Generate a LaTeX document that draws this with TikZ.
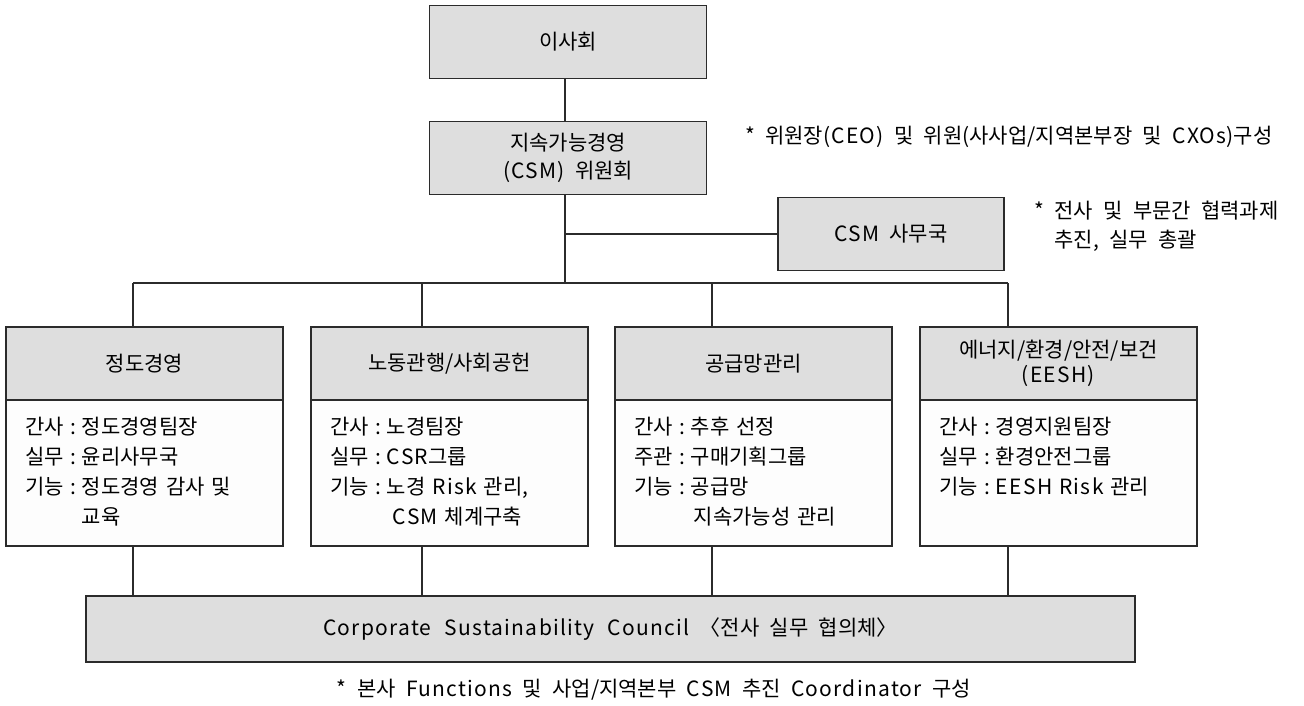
\documentclass[tikz,border=0pt]{standalone}
\usepackage{fontspec}
\setmainfont{Noto Sans CJK KR}[WordSpace=2.2]
\newfontfamily\engfont{Noto Sans CJK KR}[WordSpace=2.2, LetterSpace=6]
\newcommand{\eng}[1]{{\engfont #1}}
\usepackage{array}
\definecolor{headgray}{HTML}{DEDEDE}
\definecolor{bodywhite}{HTML}{FDFDFD}
\definecolor{linegray}{HTML}{2B2B2B}

\begin{document}
\begin{tikzpicture}[
        x=1pt, y=-1pt,
        topbox/.style={rectangle, draw=linegray, line width=1.2pt, fill=headgray, minimum width=277pt, minimum height=73pt, align=center, inner sep=0pt, font=\fontsize{21}{28}\selectfont},
        officebox/.style={topbox, minimum width=226pt},
        headbox/.style={topbox, font=\fontsize{21}{25}\selectfont},
        bodybox/.style={rectangle, draw=linegray, line width=1.2pt, fill=bodywhite, minimum width=277pt, minimum height=146pt, text width=238pt, align=left, inner sep=0pt, font=\fontsize{21}{30}\selectfont},
        councilbox/.style={topbox, minimum width=1049pt, minimum height=66pt},
        note/.style={align=left, inner sep=0pt, font=\fontsize{21}{29}\selectfont},
        link/.style={draw=linegray, line width=1.2pt}
    ]
        \useasboundingbox (0,0) rectangle (1304,706);

        % Board and committee
        \node[topbox] (board) at (568,42) {이사회};
        \node[topbox] (csm_comm) at (568,158) {지속가능경영\\\eng{(CSM)} 위원회};
        \node[note, anchor=west] (comm_note) at (745,137) {* 위원장\eng{(CEO)} 및 위원(사사업/지역본부장 및 \eng{CXOs})구성};

        % Office
        \node[officebox] (csm_office) at (891,234) {\eng{CSM} 사무국};
        \node[note, anchor=west] (office_note) at (1034,226) {* 전사 및 부문간 협력과제\\\phantom{* }추진, 실무 총괄};

        % Trunk and bus
        \coordinate (trunk) at (565,283);
        \coordinate (drop1) at (133,283);
        \coordinate (drop2) at (422,283);
        \coordinate (drop3) at (712,283);
        \coordinate (drop4) at (1008,283);
        \draw[link] (board.south -| trunk) -- (csm_comm.north -| trunk);
        \draw[link] (csm_comm.south -| trunk) -- (trunk);
        \draw[link] (trunk |- csm_office.west) -- (csm_office.west);
        \draw[link] (drop1) -- (drop4);

        % Division 1: ethics
        \node[headbox] (ethics_head) at (144.5,363.5) {정도경영};
        \node[bodybox] (ethics_body) at (144.5,473) {\begin{tabular}{@{}l@{\hspace{6pt}}c@{\hspace{6pt}}l@{}}
            간사 & : & 정도경영팀장\\
            실무 & : & 윤리사무국\\
            기능 & : & 정도경영 감사 및\\
                 &   & 교육
        \end{tabular}};

        % Division 2: labour / community
        \node[headbox] (labour_head) at (449.5,363.5) {노동관행/사회공헌};
        \node[bodybox] (labour_body) at (449.5,473) {\begin{tabular}{@{}l@{\hspace{6pt}}c@{\hspace{6pt}}l@{}}
            간사 & : & 노경팀장\\
            실무 & : & \eng{CSR}그룹\\
            기능 & : & 노경 \eng{Risk} 관리,\\
                 &   & \hspace{6pt}\eng{CSM} 체계구축
        \end{tabular}};

        % Division 3: supply chain
        \node[headbox] (supply_head) at (753.5,363.5) {공급망관리};
        \node[bodybox] (supply_body) at (753.5,473) {\begin{tabular}{@{}l@{\hspace{6pt}}c@{\hspace{6pt}}l@{}}
            간사 & : & 추후 선정\\
            주관 & : & 구매기획그룹\\
            기능 & : & 공급망\\
                 &   & \hspace{3pt}지속가능성 관리
        \end{tabular}};

        % Division 4: EESH
        \node[headbox] (eesh_head) at (1058.5,363.5) {에너지/환경/안전/보건\\\eng{(EESH)}};
        \node[bodybox] (eesh_body) at (1058.5,473) {\begin{tabular}{@{}l@{\hspace{6pt}}c@{\hspace{6pt}}l@{}}
            간사 & : & 경영지원팀장\\
            실무 & : & 환경안전그룹\\
            기능 & : & \eng{EESH Risk} 관리\\
                 &   &
        \end{tabular}};

        % Council
        \node[councilbox] (council) at (610.5,629) {\eng{Corporate Sustainability Council} 〈전사 실무 협의체〉};
        \node[note] (council_note) at (654,690) {* 본사 \eng{Functions} 및 사업/지역본부 \eng{CSM} 추진 \eng{Coordinator} 구성};

        \draw[link] (drop1) -- (drop1 |- ethics_head.north);
        \draw[link] (drop2) -- (drop2 |- labour_head.north);
        \draw[link] (drop3) -- (drop3 |- supply_head.north);
        \draw[link] (drop4) -- (drop4 |- eesh_head.north);
        \draw[link] (drop1 |- ethics_body.south) -- (drop1 |- council.north);
        \draw[link] (drop2 |- labour_body.south) -- (drop2 |- council.north);
        \draw[link] (drop3 |- supply_body.south) -- (drop3 |- council.north);
        \draw[link] (drop4 |- eesh_body.south) -- (drop4 |- council.north);

    \end{tikzpicture}
\end{document}
